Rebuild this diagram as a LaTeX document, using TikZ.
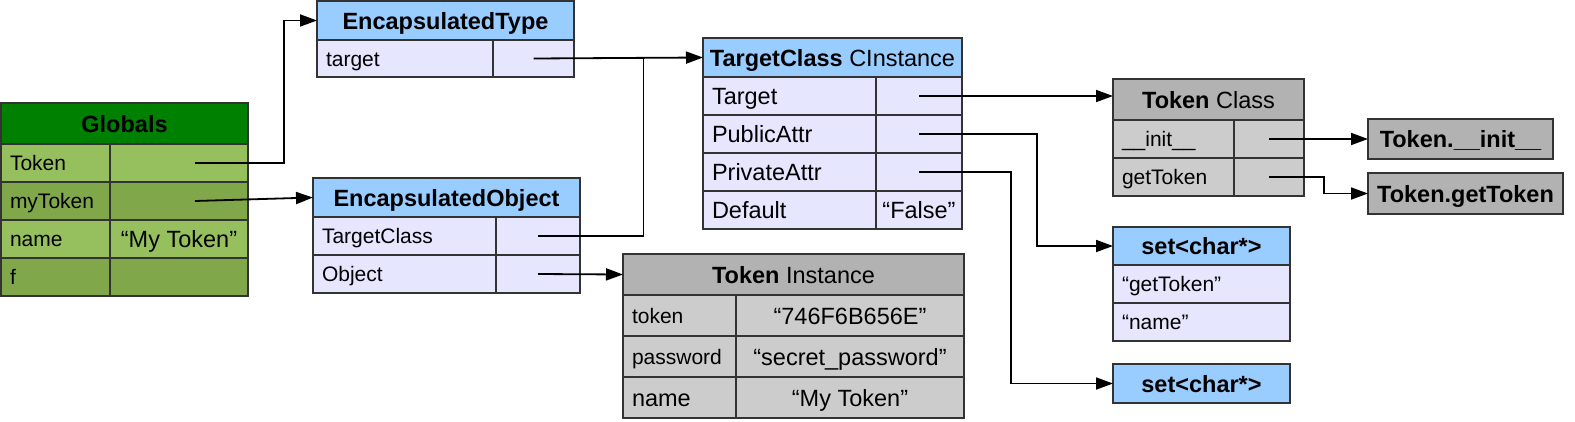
\documentclass[tikz,border=0pt]{standalone}
\usepackage{fontspec}
\setmainfont{Liberation Sans}
\usetikzlibrary{arrows.meta,positioning}
\definecolor{hdrblue}{RGB}{153,204,255}
\definecolor{rowlav}{RGB}{230,230,255}
\definecolor{hdrgray}{RGB}{178,178,178}
\definecolor{rowgray}{RGB}{204,204,204}
\definecolor{hdrgreen}{RGB}{0,128,0}
\definecolor{rowgreen}{RGB}{150,192,94}
\definecolor{rowgreendk}{RGB}{128,168,74}
\newcommand{\fnrow}{\fontsize{21}{25}\selectfont}
\newcommand{\fnbig}{\fontsize{23.5}{28}\selectfont}
\newcommand{\fnhead}{\fontsize{23.5}{28}\selectfont\bfseries}
\tikzset{
  cell/.style={draw=black!80, line width=1.2pt, anchor=north west, inner sep=0pt,
    outer sep=0pt, text height=15pt, text depth=0pt, minimum height=38pt, font=\fnrow},
  key/.style={cell, inner xsep=9pt, text width=#1, align=left},
  val/.style={cell, minimum width=#1},
  bigtxt/.style={font=\fnbig, text height=17pt},
  head/.style={cell, minimum width=#1, font=\fnhead, text height=17pt, minimum height=39pt},
  link/.style={line width=1.8pt, -{Triangle[length=17pt,width=12pt]}}
}

\begin{document}
\begin{tikzpicture}[x=1pt, y=-1pt]
  \useasboundingbox (0,0) rectangle (1575,421);

  % globals
  \node[head=247pt, fill=hdrgreen, minimum height=41pt] (g-h) at (1,103) {Globals};
  \node[key=91pt, fill=rowgreen] (g-tok) at (g-h.south west) {Token};
  \node[val=138pt, fill=rowgreen] (g-tok-v) at (g-tok.north east) {};
  \node[key=91pt, fill=rowgreendk] (g-my) at (g-tok.south west) {myToken};
  \node[val=138pt, fill=rowgreendk] (g-my-v) at (g-my.north east) {};
  \node[key=91pt, fill=rowgreen] (g-name) at (g-my.south west) {name};
  \node[val=138pt, fill=rowgreen, bigtxt] (g-name-v) at (g-name.north east) {“My Token”};
  \node[key=91pt, fill=rowgreendk] (g-f) at (g-name.south west) {f};
  \node[val=138pt, fill=rowgreendk] (g-f-v) at (g-f.north east) {};

  % encapsulated type / object
  \node[head=257pt, fill=hdrblue] (et-h) at (317,1) {EncapsulatedType};
  \node[key=158pt, fill=rowlav, minimum height=37pt] (et-t) at (et-h.south west) {target};
  \node[val=81pt, fill=rowlav, minimum height=37pt] (et-t-v) at (et-t.north east) {};

  \node[head=267pt, fill=hdrblue] (eo-h) at (313,178) {EncapsulatedObject};
  \node[key=165pt, fill=rowlav] (eo-tc) at (eo-h.south west) {TargetClass};
  \node[val=84pt, fill=rowlav] (eo-tc-v) at (eo-tc.north east) {};
  \node[key=165pt, fill=rowlav] (eo-obj) at (eo-tc.south west) {Object};
  \node[val=84pt, fill=rowlav] (eo-obj-v) at (eo-obj.north east) {};

  % target class instance
  \node[head=259pt, fill=hdrblue] (tc-h) at (703,38) {TargetClass \textmd{CInstance}};
  \node[key=155pt, fill=rowlav, bigtxt] (tc-tgt) at (tc-h.south west) {Target};
  \node[val=86pt, fill=rowlav] (tc-tgt-v) at (tc-tgt.north east) {};
  \node[key=155pt, fill=rowlav, bigtxt] (tc-pub) at (tc-tgt.south west) {PublicAttr};
  \node[val=86pt, fill=rowlav] (tc-pub-v) at (tc-pub.north east) {};
  \node[key=155pt, fill=rowlav, bigtxt] (tc-prv) at (tc-pub.south west) {PrivateAttr};
  \node[val=86pt, fill=rowlav] (tc-prv-v) at (tc-prv.north east) {};
  \node[key=155pt, fill=rowlav, bigtxt] (tc-def) at (tc-prv.south west) {Default};
  \node[val=86pt, fill=rowlav, bigtxt] (tc-def-v) at (tc-def.north east) {“False”};

  % token instance
  \node[head=341pt, fill=hdrgray, minimum height=41pt] (tn-h) at (623,254) {Token \textmd{Instance}};
  \node[key=95pt, fill=rowgray, minimum height=41pt] (tn-tok) at (tn-h.south west) {token};
  \node[val=228pt, fill=rowgray, minimum height=41pt, bigtxt] (tn-tok-v) at (tn-tok.north east) {“746F6B656E”};
  \node[key=95pt, fill=rowgray, minimum height=41pt] (tn-pw) at (tn-tok.south west) {password};
  \node[val=228pt, fill=rowgray, minimum height=41pt, bigtxt] (tn-pw-v) at (tn-pw.north east) {“secret\_password”};
  \node[key=95pt, fill=rowgray, minimum height=41pt, bigtxt] (tn-name) at (tn-pw.south west) {name};
  \node[val=228pt, fill=rowgray, minimum height=41pt, bigtxt] (tn-name-v) at (tn-name.north east) {“My Token”};

  % token class and its methods
  \node[head=191pt, fill=hdrgray, minimum height=41pt] (tk-h) at (1113,79) {Token \textmd{Class}};
  \node[key=103pt, fill=rowgray] (tk-init) at (tk-h.south west) {\_\_init\_\_};
  \node[val=70pt, fill=rowgray] (tk-init-v) at (tk-init.north east) {};
  \node[key=103pt, fill=rowgray] (tk-get) at (tk-init.south west) {getToken};
  \node[val=70pt, fill=rowgray] (tk-get-v) at (tk-get.north east) {};

  \node[head=185pt, fill=hdrgray, minimum height=40pt] (ti) at (1368,119) {Token.\_\_init\_\_};
  \node[head=195pt, fill=hdrgray, minimum height=41pt] (tg) at (1368,173) {Token.getToken};

  % sets
  \node[head=177pt, fill=hdrblue, minimum height=38pt] (s1-h) at (1113,227) {set<char*>};
  \node[key=159pt, fill=rowlav] (s1-a) at (s1-h.south west) {“getToken”};
  \node[key=159pt, fill=rowlav] (s1-b) at (s1-a.south west) {“name”};
  \node[head=177pt, fill=hdrblue] (s2) at (1113,364) {set<char*>};

  % pointers
  \draw[link] ([xshift=16pt]g-tok-v.center) -- ++(89,0) |- (et-h.west);
  \draw[link] ([xshift=16pt]g-my-v.center) -- (eo-h.west);
  \draw[link] (et-t-v.center) -- (tc-h.west);
  \draw[line width=1.8pt] (eo-tc-v.center) -| ([xshift=110pt]et-t-v.center);
  \draw[link] (eo-obj-v.center) -- (tn-h.west);
  \draw[link] (tc-tgt-v.center) -- (tc-tgt-v.center -| tk-h.west);
  \draw[link] (tc-pub-v.center) -- ++(118,0) |- (s1-h.west);
  \draw[link] (tc-prv-v.center) -- ++(92,0) |- (s2.west);
  \draw[link] (tk-init-v.center) -- (ti.west);
  \draw[link] (tk-get-v.center) -- ++(55,0) |- (tg.west);
\end{tikzpicture}
\end{document}
